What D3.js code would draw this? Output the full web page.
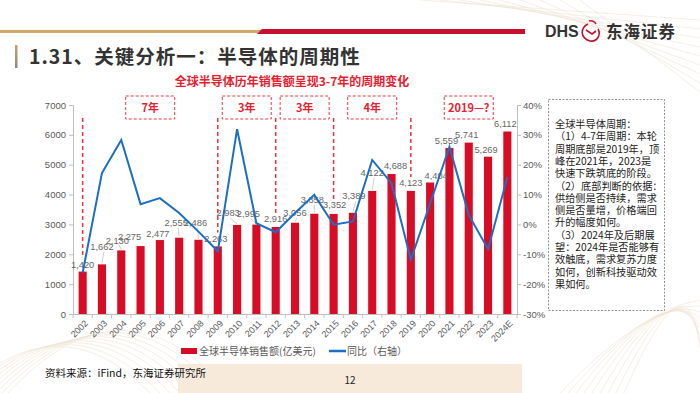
<!DOCTYPE html>
<html>
<head>
<meta charset="utf-8">
<script src="https://cdn.jsdelivr.net/npm/d3@7/dist/d3.min.js"></script>
<style>
  html, body { margin: 0; padding: 0; background: #fff; }
  svg { display: block; font-family: "Noto Sans CJK SC", "Noto Sans", sans-serif; }
</style>
</head>
<body>
<svg id="chart" width="700" height="393"></svg>
<script>
// data
var years = ["2002", "2003", "2004", "2005", "2006", "2007", "2008", "2009", "2010", "2011", "2012",
  "2013", "2014", "2015", "2016", "2017", "2018", "2019", "2020", "2021", "2022", "2023", "2024E"];
var sales = [1420, 1662, 2130, 2275, 2477, 2555, 2486, 2263, 2983, 2995, 2916,
  3056, 3358, 3352, 3389, 4122, 4688, 4123, 4404, 5559, 5741, 5269, 6112];
var yoy = [-16.2, 17.2, 28.3, 6.8, 8.8, 3.8, -2.4, -9.0, 31.9, 0.4, -2.6,
  3.8, 9.9, -0.1, 1.0, 21.6, 13.8, -11.8, 7.0, 26.0, 3.2, -8.3, 15.8];
var cycleMarks = ["2002", "2009", "2012", "2015", "2019"];
var cycleBoxes = [
  { label: "7年", from: "2002", to: "2009" },
  { label: "3年", from: "2009", to: "2012" },
  { label: "3年", from: "2012", to: "2015" },
  { label: "4年", from: "2015", to: "2019" },
  { label: "2019—?", from: "2020", to: "2024E" }
];
var noteLines = [
  "全球半导体周期：",
  "（1）4-7年周期：本轮",
  "周期底部是2019年，顶",
  "峰在2021年，2023是",
  "快速下跌筑底的阶段。",
  "（2）底部判断的依据：",
  "供给侧是否持续，需求",
  "侧是否量增，价格端回",
  "升的幅度如何。",
  "（3）2024年及后期展",
  "望：2024年是否能够有",
  "效触底，需求复苏力度",
  "如何，创新科技驱动效",
  "果如何。"
];

// label nudges (layout only): [dx, dy] from bar top
var labelNudge = [[0, -7], [0, -18], [-4, -10], [-11, -9], [-2, -6], [-3, -15], [-3, -17], [-2, -8],
  [-9, -12], [-8, -11], [0, -8], [0, -10], [-2, -14], [1, -9], [1, -17], [0, -18], [4, -8], [0, -8],
  [6, -7], [-3, -7], [-2, -8], [-2, -7], [-2, -8]];

var RED = "#d90c26", BLUE = "#1c6fc2", AX = "#bfbfbf", TXT = "#595959";
var svg = d3.select("#chart");

// ---- background decoration
var deco = svg.append("g").attr("fill", "none").attr("stroke", "#efe3d2").attr("stroke-width", 0.6);
for (var i = 0; i < 9; i++) {
  deco.append("path").attr("d", "M" + (-40 + i * 6) + ",393 Q" + (60 + i * 8) + "," + (300 - i * 4) + " " + (150 + i * 10) + ",393");
  deco.append("path").attr("d", "M" + (560 + i * 8) + ",393 Q" + (640 + i * 6) + "," + (310 - i * 8) + " 700," + (300 + i * 6));
  deco.append("path").attr("d", "M" + (420 + i * 20) + ",0 L700," + (20 + i * 9));
}
svg.append("rect").attr("x", 178).attr("y", 364).attr("width", 344).attr("height", 29).attr("fill", "#f7eadb");

// ---- header
svg.append("rect").attr("x", 0).attr("y", 30).attr("width", 262).attr("height", 3).attr("fill", "#d2a76c");
svg.append("path").attr("d", "M262,29 L525,29 L525,34 L257,34 Z").attr("fill", "#c8102e");
svg.append("text").attr("x", 545).attr("y", 37).attr("font-size", 16).attr("font-weight", 700)
  .attr("fill", "#333").attr("font-family", "Liberation Sans, Arial, sans-serif").text("DHS");
var logo = svg.append("g").attr("fill", "none").attr("stroke", "#c8102e").attr("stroke-width", 1.6);
logo.append("path").attr("d", "M588,24 C580,28 580,38 590,41 C598,42 601,34 598,29");
logo.append("path").attr("d", "M586,30 L592,34 L596,31");
logo.append("path").attr("d", "M589,21 C592,20 595,22 596,24");
svg.append("text").attr("x", 606).attr("y", 38).attr("font-size", 16.5).attr("font-weight", 700)
  .attr("fill", "#333").attr("letter-spacing", 1).text("东海证券");

var tg = svg.append("linearGradient").attr("id", "tbar").attr("x1", 0).attr("y1", 0).attr("x2", 0).attr("y2", 1);
tg.append("stop").attr("offset", "0%").attr("stop-color", "#c9a36b");
tg.append("stop").attr("offset", "100%").attr("stop-color", "#8a8a8a");
svg.append("rect").attr("x", 15).attr("y", 45).attr("width", 2.5).attr("height", 23).attr("fill", "url(#tbar)");
svg.append("text").attr("x", 29).attr("y", 63.5).attr("font-size", 19.5).attr("font-weight", 700)
  .attr("fill", "#333").attr("letter-spacing", 1).text("1.31、关键分析一：半导体的周期性");
svg.append("text").attr("x", 292).attr("y", 85.5).attr("text-anchor", "middle").attr("font-size", 12)
  .attr("font-weight", 700).attr("fill", "#e8202e").text("全球半导体历年销售额呈现3-7年的周期变化");

// ---- scales
var plotL = 73, plotR = 517, plotT = 105, plotB = 314;
var x = d3.scaleBand().domain(years).range([plotL, plotR]).paddingInner(0.58).paddingOuter(0.29);
var y = d3.scaleLinear().domain([0, 7000]).range([plotB, plotT]);
var y2 = d3.scaleLinear().domain([-30, 40]).range([plotB, plotT]);
var cx = function (d) { return x(d) + x.bandwidth() / 2; };

// axes
var gl = svg.append("g").attr("transform", "translate(" + plotL + ",0)")
  .call(d3.axisLeft(y).tickValues(d3.range(0, 7001, 1000)).tickSize(4).tickPadding(3).tickFormat(d3.format("d")));
var gr = svg.append("g").attr("transform", "translate(" + plotR + ",0)")
  .call(d3.axisRight(y2).tickValues(d3.range(-30, 41, 10)).tickSize(4).tickPadding(2).tickFormat(function (d) { return d + "%"; }));
var gx = svg.append("g").attr("transform", "translate(0," + plotB + ")")
  .call(d3.axisBottom(x).tickSize(0).tickPadding(0));
[gl, gr, gx].forEach(function (g) {
  g.selectAll("path, line").attr("stroke", AX);
  g.selectAll("text").attr("fill", TXT).attr("font-size", 9.5).attr("font-family", "Liberation Sans, Arial, sans-serif");
});
gx.selectAll(".tick text").attr("text-anchor", "end").attr("font-size", 9)
  .attr("transform", "translate(4,8) rotate(-45)").attr("dy", "0.3em");
// category dividers on x axis
svg.append("g").selectAll("line").data(years.concat(["end"])).join("line")
  .attr("x1", function (d, i) { return plotL + i * x.step(); })
  .attr("x2", function (d, i) { return plotL + i * x.step(); })
  .attr("y1", plotB).attr("y2", plotB + 4).attr("stroke", AX);

// bars
svg.append("g").selectAll("rect").data(years).join("rect")
  .attr("x", function (d) { return x(d); })
  .attr("width", x.bandwidth())
  .attr("y", function (d, i) { return y(sales[i]); })
  .attr("height", function (d, i) { return plotB - y(sales[i]); })
  .attr("fill", RED);

// value labels with leader lines
var lab = svg.append("g").attr("font-size", 9.3).attr("fill", "#666").attr("text-anchor", "middle")
  .attr("font-family", "Liberation Sans, Arial, sans-serif");
years.forEach(function (d, i) {
  var nx = cx(d) + labelNudge[i][0], ny = y(sales[i]) + labelNudge[i][1];
  if (labelNudge[i][1] < -9) {
    lab.append("line").attr("x1", nx + 2).attr("y1", ny + 5).attr("x2", cx(d)).attr("y2", y(sales[i]) - 1)
      .attr("stroke", "#bbb").attr("stroke-width", 0.7);
  }
  lab.append("text").attr("x", nx).attr("y", ny + 3.3).text(d3.format(",")(sales[i]));
});

// yoy line
svg.append("path").datum(yoy)
  .attr("fill", "none").attr("stroke", BLUE).attr("stroke-width", 2).attr("stroke-linejoin", "miter")
  .attr("d", d3.line().x(function (d, i) { return cx(years[i]); }).y(function (d) { return y2(d); }));

// cycle markers
svg.append("g").selectAll("line").data(cycleMarks).join("line")
  .attr("x1", cx).attr("x2", cx).attr("y1", 118)
  .attr("y2", function (d) { return y(sales[years.indexOf(d)]) - 14; })
  .attr("stroke", "#ee3340").attr("stroke-width", 1.5).attr("stroke-dasharray", "4,3");
var bx = svg.append("g");
cycleBoxes.forEach(function (b) {
  var mid = (cx(b.from) + cx(b.to)) / 2;
  bx.append("rect").attr("x", mid - 24.5).attr("y", 96).attr("width", 49).attr("height", 23)
    .attr("fill", "#fff").attr("stroke", "#ee3a44").attr("stroke-width", 1).attr("stroke-dasharray", "3,2");
  bx.append("text").attr("x", mid).attr("y", 111.5).attr("text-anchor", "middle").attr("font-size", 11)
    .attr("font-weight", 700).attr("fill", "#e8202e").text(b.label);
});

// legend
svg.append("rect").attr("x", 181).attr("y", 348).attr("width", 16).attr("height", 6).attr("fill", RED);
svg.append("text").attr("x", 199).attr("y", 354.5).attr("font-size", 10).attr("fill", TXT).text("全球半导体销售额(亿美元)");
svg.append("line").attr("x1", 329).attr("x2", 346).attr("y1", 351).attr("y2", 351).attr("stroke", BLUE).attr("stroke-width", 2.5);
svg.append("text").attr("x", 347).attr("y", 354.5).attr("font-size", 10).attr("fill", TXT).text("同比（右轴）");

// note box
svg.append("rect").attr("x", 548.5).attr("y", 99.5).attr("width", 116).attr("height", 211)
  .attr("fill", "#fff").attr("stroke", "#777").attr("stroke-width", 0.8).attr("stroke-dasharray", "2,1.5");
svg.append("g").selectAll("text").data(noteLines).join("text")
  .attr("x", 555).attr("y", function (d, i) { return 128 + i * 12.3; })
  .attr("font-size", 10.2).attr("fill", "#222").text(function (d) { return d; });

// footer
svg.append("text").attr("x", 45).attr("y", 377).attr("font-size", 10.5).attr("fill", "#111").text("资料来源：iFind，东海证券研究所");
svg.append("text").attr("x", 350).attr("y", 384).attr("text-anchor", "middle").attr("font-size", 10).attr("fill", "#222").text("12");
</script>
</body>
</html>
